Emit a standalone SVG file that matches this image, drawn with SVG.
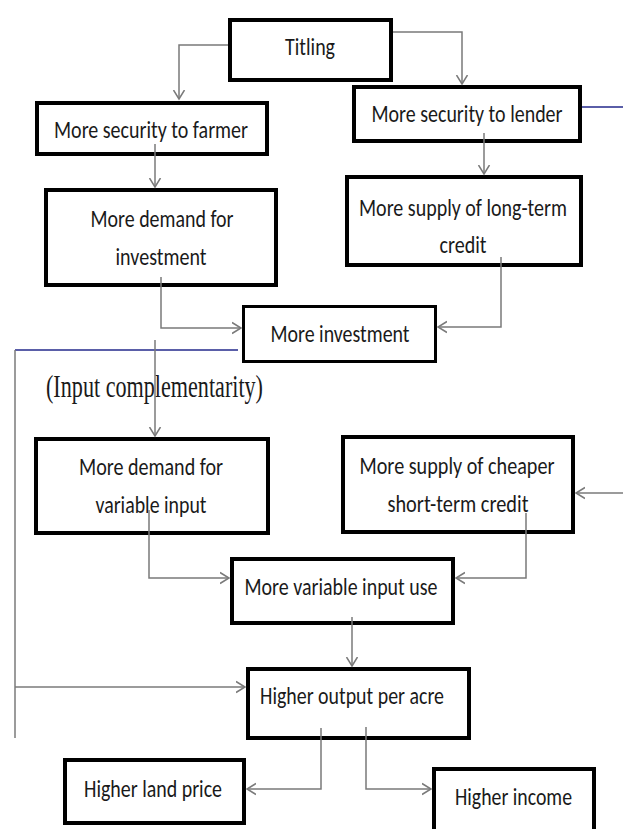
<svg xmlns="http://www.w3.org/2000/svg" width="623" height="829" viewBox="0 0 623 829">
<style>
.box{fill:#fff;stroke:#000;stroke-width:4}
.t{font-family:Carlito,Lato,"Liberation Sans",sans-serif;font-size:24px;fill:#1a1a1a;text-anchor:middle}
.s{font-family:"Liberation Serif",serif;font-size:31px;fill:#1a1a1a;text-anchor:middle}
.c{fill:none;stroke:#7a7a7a;stroke-width:1.5}
.b{fill:none;stroke:#5a5ea8;stroke-width:2.2}
</style>
<defs>
<marker id="ah" markerUnits="userSpaceOnUse" markerWidth="12" markerHeight="14" refX="9" refY="6" orient="auto" viewBox="0 0 12 12">
<path d="M0,0.5 L9,6 L0,11.5" fill="none" stroke="#7a7a7a" stroke-width="1.5"/>
</marker>
</defs>
<rect width="623" height="829" fill="#fff"/>
<g id="titling"><rect class="box" x="230" y="20" width="161" height="60"/><text class="t" x="310" y="55" textLength="50" lengthAdjust="spacingAndGlyphs">Titling</text></g>
<g id="sec-farmer"><rect class="box" x="37" y="103" width="230" height="51"/><text class="t" x="151" y="138" textLength="194" lengthAdjust="spacingAndGlyphs">More security to farmer</text></g>
<g id="sec-lender"><rect class="box" x="354" y="87" width="226" height="54"/><text class="t" x="467" y="122" textLength="191" lengthAdjust="spacingAndGlyphs">More security to lender</text></g>
<g id="demand-inv"><rect class="box" x="46" y="190" width="230" height="95"/><text class="t" x="162" y="227" textLength="143" lengthAdjust="spacingAndGlyphs">More demand for</text><text class="t" x="161" y="265" textLength="91" lengthAdjust="spacingAndGlyphs">investment</text></g>
<g id="supply-long"><rect class="box" x="347" y="177" width="234" height="88"/><text class="t" x="463" y="216" textLength="208" lengthAdjust="spacingAndGlyphs">More supply of long-term</text><text class="t" x="463" y="253" textLength="47" lengthAdjust="spacingAndGlyphs">credit</text></g>
<g id="more-inv"><rect class="box" x="243.5" y="306.5" width="192" height="55" style="stroke-width:3"/><text class="t" x="340" y="342" textLength="139" lengthAdjust="spacingAndGlyphs">More investment</text></g>
<g id="label-complementarity"><text class="s" x="154.5" y="397" textLength="217" lengthAdjust="spacingAndGlyphs">(Input complementarity)</text></g>
<g id="demand-var"><rect class="box" x="36" y="439" width="232" height="94"/><text class="t" x="151" y="475" textLength="144" lengthAdjust="spacingAndGlyphs">More demand for</text><text class="t" x="151" y="513" textLength="111" lengthAdjust="spacingAndGlyphs">variable input</text></g>
<g id="supply-short"><rect class="box" x="343" y="437" width="230" height="95"/><text class="t" x="457" y="474" textLength="195" lengthAdjust="spacingAndGlyphs">More supply of cheaper</text><text class="t" x="458" y="512" textLength="141" lengthAdjust="spacingAndGlyphs">short-term credit</text></g>
<g id="var-use"><rect class="box" x="232" y="559" width="221" height="64"/><text class="t" x="341" y="595" textLength="193" lengthAdjust="spacingAndGlyphs">More variable input use</text></g>
<g id="output"><rect class="box" x="248" y="669" width="221" height="69"/><text class="t" x="352" y="704" textLength="184" lengthAdjust="spacingAndGlyphs">Higher output per acre</text></g>
<g id="land-price"><rect class="box" x="65" y="760" width="179" height="63"/><text class="t" x="153" y="797" textLength="138" lengthAdjust="spacingAndGlyphs">Higher land price</text></g>
<g id="income"><rect class="box" x="434" y="769" width="160" height="66"/><text class="t" x="513.5" y="805" textLength="117" lengthAdjust="spacingAndGlyphs">Higher income</text></g>
<g id="connectors">
<path class="c" d="M228,45 H179 V99" marker-end="url(#ah)"/>
<path class="c" d="M393,32 H462 V84" marker-end="url(#ah)"/>
<path class="c" d="M155,144 V187" marker-end="url(#ah)"/>
<path class="c" d="M484,133 V174" marker-end="url(#ah)"/>
<path class="c" d="M161,277 V328 H241" marker-end="url(#ah)"/>
<path class="c" d="M501,257 V327 H438" marker-end="url(#ah)"/>
<path class="b" d="M582,107 H623"/>
<path class="b" d="M15,350 H238"/>
<path class="c" d="M15,350 V738"/>
<path class="c" d="M15,687 H245" marker-end="url(#ah)"/>
<path class="c" d="M155,340 V436" marker-end="url(#ah)"/>
<path class="c" d="M623,493 H576" marker-end="url(#ah)"/>
<path class="c" d="M149,510 V578 H229" marker-end="url(#ah)"/>
<path class="c" d="M526,513 V578 H456" marker-end="url(#ah)"/>
<path class="c" d="M352,617 V666" marker-end="url(#ah)"/>
<path class="c" d="M321,728 V789 H247" marker-end="url(#ah)"/>
<path class="c" d="M366,727 V789 H431" marker-end="url(#ah)"/>
</g>
</svg>
